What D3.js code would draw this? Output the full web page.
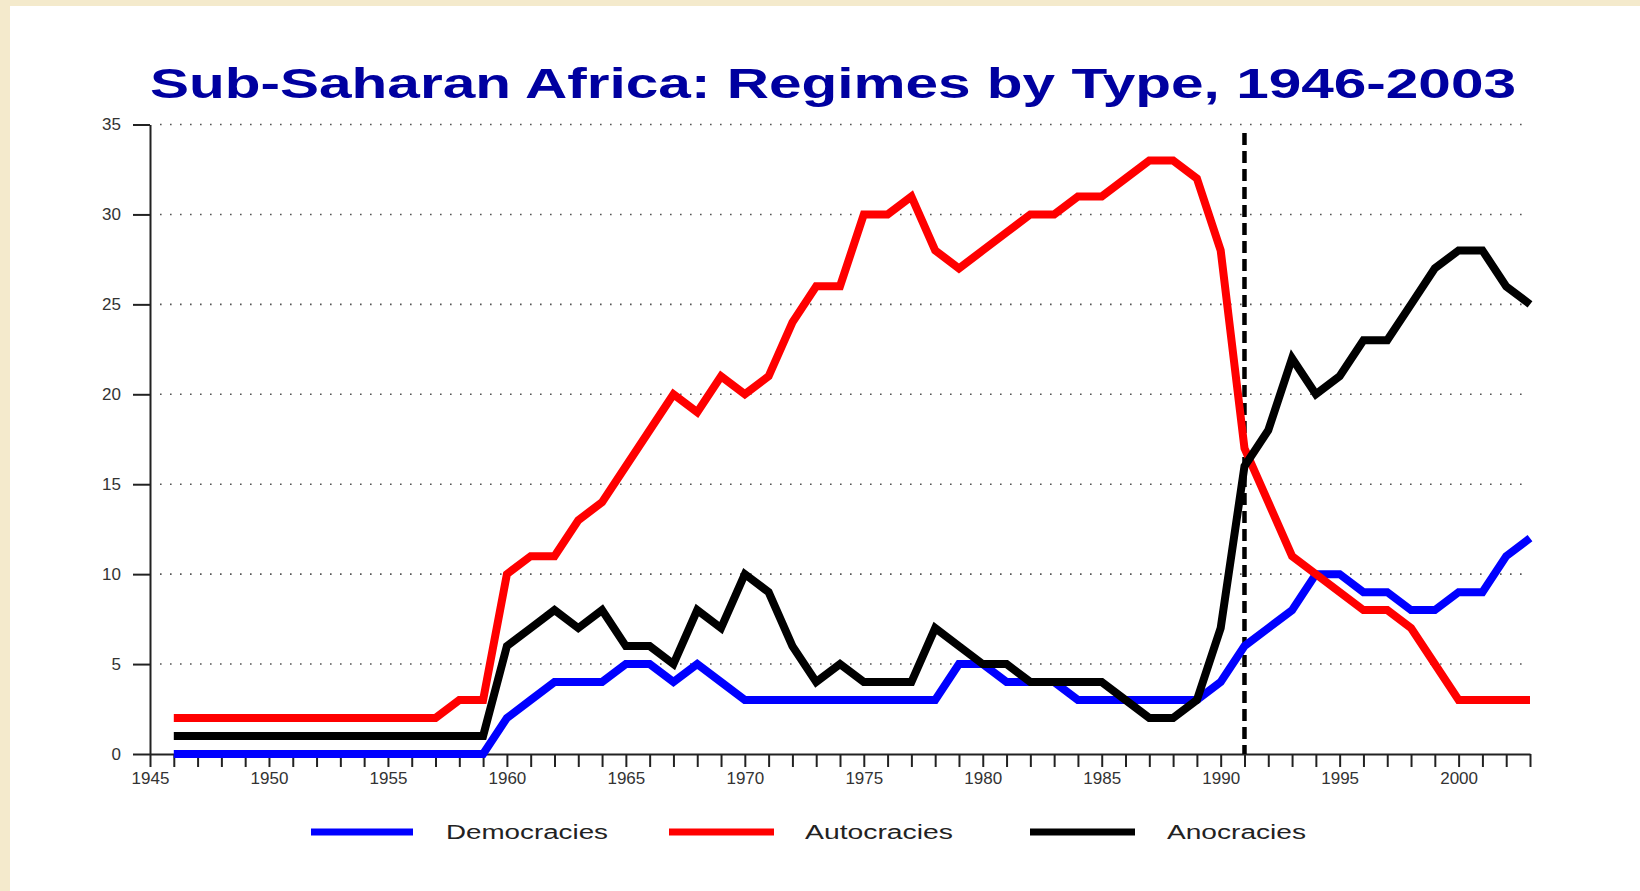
<!DOCTYPE html>
<html>
<head>
<meta charset="utf-8">
<script src="https://cdn.jsdelivr.net/npm/d3@7"></script>
<style>
  html, body { margin: 0; padding: 0; background: #f4eacc; }
  svg { display: block; }
  text { font-family: "Liberation Sans", Arial, sans-serif; }
</style>
</head>
<body>
<svg id="chart" width="1640" height="891"></svg>
<script>
// data (1946 - 2003, one value per year)
const firstYear = 1946;
const lastYear = 2003;
const years = d3.range(firstYear, lastYear + 1);

const democracies = [0, 0, 0, 0, 0, 0, 0, 0, 0, 0, 0, 0, 0, 0,
    2, 3, 4, 4, 4, 5, 5, 4, 5, 4,
    3, 3, 3, 3, 3, 3, 3, 3, 3, 5,
    5, 4, 4, 4, 3, 3, 3, 3, 3, 3,
    4, 6, 7, 8, 10, 10, 9, 9, 8, 8,
    9, 9, 11, 12];

const autocracies = [2, 2, 2, 2, 2, 2, 2, 2, 2, 2, 2, 2, 3, 3,
    10, 11, 11, 13, 14, 16, 18, 20, 19, 21,
    20, 21, 24, 26, 26, 30, 30, 31, 28, 27,
    28, 29, 30, 30, 31, 31, 32, 33, 33, 32,
    28, 17, 14, 11, 10, 9, 8, 8, 7, 5,
    3, 3, 3, 3];

const anocracies = [1, 1, 1, 1, 1, 1, 1, 1, 1, 1, 1, 1, 1, 1,
    6, 7, 8, 7, 8, 6, 6, 5, 8, 7,
    10, 9, 6, 4, 5, 4, 4, 4, 7, 6,
    5, 5, 4, 4, 4, 4, 3, 2, 2, 3,
    7, 16, 18, 22, 20, 21, 23, 23, 25, 27,
    28, 28, 26, 25];

const seriesNames = ["Democracies", "Autocracies", "Anocracies"];
const seriesColors = ["#0000ff", "#ff0000", "#000000"];
const yTicks = [0, 5, 10, 15, 20, 25, 30, 35];
const xLabelYears = [1945, 1950, 1955, 1960, 1965, 1970, 1975, 1980, 1985, 1990, 1995, 2000];
const markerYear = 1991;
const titleText = "Sub-Saharan Africa: Regimes by Type, 1946-2003";

const svg = d3.select("#chart");

// beige frame, white panel
svg.append("rect").attr("width", 1640).attr("height", 891).attr("fill", "#f4eacc");
svg.append("rect").attr("x", 10).attr("y", 6).attr("width", 1630).attr("height", 885).attr("fill", "#ffffff");

const x = d3.scaleLinear().domain([1945, lastYear]).range([150, 1530]);
const y = d3.scaleLinear().domain([0, 35]).range([754, 124.5]);

// title
svg.append("text")
    .attr("x", 150)
    .attr("y", 98)
    .attr("textLength", 1366)
    .attr("lengthAdjust", "spacingAndGlyphs")
    .style("font-size", "42px")
    .style("font-weight", "bold")
    .style("fill", "#0000a0")
    .text(titleText);

// dotted grid
svg.append("g")
    .selectAll("line")
    .data(yTicks.filter(d => d > 0))
    .join("line")
    .attr("x1", x(1945) + 10)
    .attr("x2", x(lastYear))
    .attr("y1", d => y(d))
    .attr("y2", d => y(d))
    .attr("stroke", "#555")
    .attr("stroke-width", 1.6)
    .attr("stroke-dasharray", "1.6,8.4");

// y axis
const yAxis = svg.append("g")
    .attr("transform", `translate(${x(1945)},0)`)
    .call(d3.axisLeft(y).tickValues(yTicks).tickSize(17).tickPadding(12).tickSizeOuter(0));

// x axis, a tick every year, label every 5
const xAxis = svg.append("g")
    .attr("transform", `translate(0,${y(0)})`)
    .call(d3.axisBottom(x)
        .tickValues(d3.range(1945, lastYear + 1))
        .tickSize(13)
        .tickPadding(5)
        .tickSizeOuter(0)
        .tickFormat(d => xLabelYears.includes(d) ? d : ""));

[yAxis, xAxis].forEach(g => {
    g.attr("font-size", 17).attr("font-family", "\"Liberation Sans\", Arial, sans-serif");
    g.select(".domain").attr("stroke", "#222").attr("stroke-width", 2);
    g.selectAll(".tick line").attr("stroke", "#222").attr("stroke-width", 2);
    g.selectAll(".tick text")
        .attr("font-size", 17)
        .style("font-size", "17px")
        .attr("fill", "#333");
});

// dashed marker at 1991
svg.append("line")
    .attr("x1", x(markerYear)).attr("x2", x(markerYear))
    .attr("y1", 133).attr("y2", y(0))
    .attr("stroke", "#000")
    .attr("stroke-width", 4.5)
    .attr("stroke-dasharray", "12,6");

// series lines
const allSeries = [democracies, autocracies, anocracies];
const line = d3.line()
    .x((d, i) => x(years[i]))
    .y(d => y(d));

svg.append("g")
    .selectAll("path")
    .data(allSeries)
    .join("path")
    .attr("d", d => line(d))
    .attr("fill", "none")
    .attr("stroke", (d, i) => seriesColors[i])
    .attr("stroke-width", 8)
    .attr("stroke-linejoin", "miter");

// legend
const legendLines = [[311, 413], [669, 774], [1030, 1135]];
const legendLabels = [[446, 162], [805, 148], [1167, 139]];
const legend = svg.append("g");
seriesNames.forEach((name, i) => {
    legend.append("line")
        .attr("x1", legendLines[i][0]).attr("x2", legendLines[i][1])
        .attr("y1", 832).attr("y2", 832)
        .attr("stroke", seriesColors[i])
        .attr("stroke-width", 7);
    legend.append("text")
        .attr("x", legendLabels[i][0])
        .attr("y", 839)
        .attr("textLength", legendLabels[i][1])
        .attr("lengthAdjust", "spacingAndGlyphs")
        .style("font-size", "20px")
        .style("fill", "#222")
        .text(name);
});
</script>
</body>
</html>
